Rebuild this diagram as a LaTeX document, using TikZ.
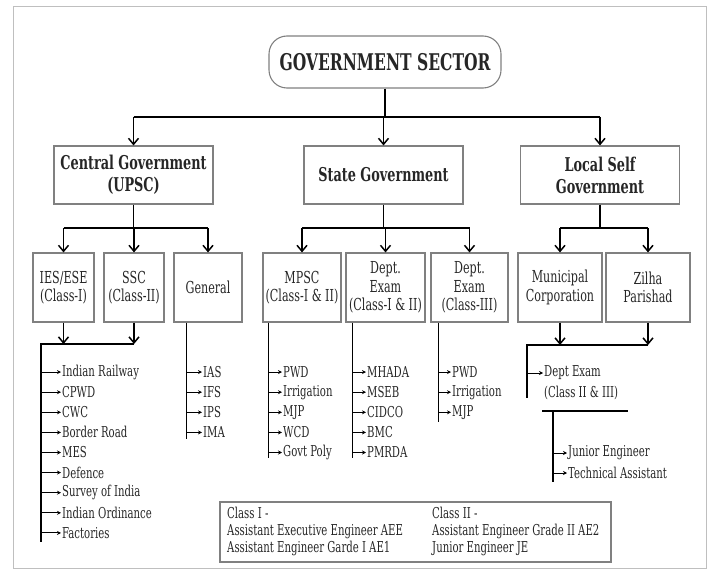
\documentclass[tikz,border=0pt]{standalone}
\usepackage{fontspec}
\setmainfont[FakeStretch=0.75]{DejaVu Serif Condensed}
\usetikzlibrary{arrows.meta, positioning}

\begin{document}
\begin{tikzpicture}[
    x=1pt, y=-1pt,
    every node/.style={font=\fontsize{15}{17}\selectfont, text=black!85},
    box/.style={rectangle, draw=gray, line width=1.1pt, align=center, inner sep=1pt},
    topbox/.style={box, font=\bfseries\fontsize{19}{22}\selectfont, minimum width=159pt, minimum height=58pt},
    subbox/.style={box, font=\fontsize{16.5}{18.5}\selectfont, minimum height=69pt},
    item/.style={anchor=west, inner sep=1pt},
    arrow/.style={line width=1.5pt, -{Straight Barb[length=6pt,width=10pt]}},
    stem/.style={line width=1.5pt},
    bus/.style={line width=2.2pt},
    tip/.style={line width=1pt, -{Stealth[length=4pt,width=4pt]}}
  ]
    \useasboundingbox (0,0) rectangle (717,572);
    \draw[gray!50, line width=1pt] (13,7) rectangle (706,568);
    % Nodes
    \node[box, rounded corners=18pt, minimum width=232pt, minimum height=52pt, font=\bfseries\fontsize{23}{26}\selectfont] (sector) at (385,62) {GOVERNMENT SECTOR};
    \node[topbox] (central) at (133.5,175) {Central Government\\(UPSC)};
    \node[topbox] (state) at (383.5,175) {State Government};
    \node[topbox] (local) at (600,175) {Local Self\\Government};
    \node[subbox, minimum width=61pt] (ies) at (63.5,287.5) {IES/ESE\\(Class-I)};
    \node[subbox, minimum width=60pt] (ssc) at (134,287.5) {SSC\\(Class-II)};
    \node[subbox, minimum width=68pt] (general) at (208,287.5) {General};
    \node[subbox, minimum width=78pt] (mpsc) at (302,287.5) {MPSC\\(Class-I \& II)};
    \node[subbox, minimum width=79pt] (deptA) at (385.5,287.5) {Dept.\\Exam\\(Class-I \& II)};
    \node[subbox, minimum width=77pt] (deptB) at (469.5,287.5) {Dept.\\Exam\\(Class-III)};
    \node[subbox, minimum width=84pt] (muni) at (560,287.5) {Municipal\\Corporation};
    \node[subbox, minimum width=84pt] (zilha) at (648,287.5) {Zilha\\Parishad};
    % Arrows (top level)
    \draw[stem] (sector) -- ++(0,55) coordinate (s1);
    \draw[bus] (s1 -| central) -- (s1 -| local);
    \foreach \n in {central, state, local} \draw[arrow] (s1 -| \n) -- (\n);
    % Arrows (second level)
    \draw[stem] (central) -- ++(0,53) coordinate (c1);
    \draw[bus] (c1 -| ies) -- (c1 -| general);
    \foreach \n in {ies, ssc, general} \draw[arrow] (c1 -| \n) -- (\n);
    \draw[stem] (state) -- ++(0,53) coordinate (c2);
    \draw[bus] (c2 -| mpsc) -- (c2 -| deptB);
    \foreach \n in {mpsc, deptA, deptB} \draw[arrow] (c2 -| \n) -- (\n);
    \draw[stem] (local) -- ++(0,53) coordinate (c3);
    \draw[bus] (c3 -| muni) -- (c3 -| zilha);
    \foreach \n in {muni, zilha} \draw[arrow] (c3 -| \n) -- (\n);
    % Central lists
    \coordinate (cg) at (41,344);
    \draw[arrow] (ies) -- (ies |- cg);
    \draw[arrow] (ssc) -- (ssc |- cg);
    \draw[bus] (ssc |- cg) -- (cg) -- ++(0,198);
    \foreach \t [count=\k] in {Indian Railway, CPWD, CWC, Border Road, MES, Defence, Survey of India, Indian Ordinance, Factories} {
      \node[item] (cg\k) at (61,352+20.1*\k) {\t};
      \draw[tip] (cg |- cg\k) -- (cg\k.west);
    }
    \coordinate (gn) at ([xshift=13pt]general.south west);
    \draw[stem] (gn) -- ++(0,116);
    \foreach \t [count=\k] in {IAS, IFS, IPS, IMA} {
      \node[item] (gn\k) at (202,352+20.1*\k) {\t};
      \draw[tip] (gn |- gn\k) -- (gn\k.west);
    }
    % State lists
    \coordinate (mp) at ([xshift=6pt]mpsc.south west);
    \draw[stem] (mp) -- ++(0,135);
    \foreach \t [count=\k] in {PWD, Irrigation, MJP, WCD, Govt Poly} {
      \node[item] (mp\k) at (282,352+20.1*\k) {\t};
      \draw[tip] (mp |- mp\k) -- (mp\k.west);
    }
    \coordinate (da) at ([xshift=7pt]deptA.south west);
    \draw[stem] (da) -- ++(0,135);
    \foreach \t [count=\k] in {MHADA, MSEB, CIDCO, BMC, PMRDA} {
      \node[item] (da\k) at (366,352+20.1*\k) {\t};
      \draw[tip] (da |- da\k) -- (da\k.west);
    }
    \coordinate (db) at ([xshift=8pt]deptB.south west);
    \draw[stem] (db) -- ++(0,99);
    \foreach \t [count=\k] in {PWD, Irrigation, MJP} {
      \node[item] (db\k) at (451,352+20.1*\k) {\t};
      \draw[tip] (db |- db\k) -- (db\k.west);
    }
    % Local list
    \coordinate (lc) at (527,345);
    \draw[arrow] (muni) -- (muni |- lc);
    \draw[arrow] (zilha) -- (zilha |- lc);
    \draw[bus] (zilha |- lc) -- (lc) -- ++(0,53);
    \node[item] (dexam) at (543,373) {Dept Exam};
    \node[item] (dclass) at (543,393) {(Class II \& III)};
    \draw[tip] (lc |- dexam) -- (dexam.west);
    \coordinate (bl) at (542,411);
    \coordinate (br) at (628,411);
    \coordinate (je) at (553,411);
    \draw[line width=2.5pt] (bl) -- (br);
    \draw[stem] (je) -- ++(0,71);
    \node[item] (je1) at (567,453) {Junior Engineer};
    \node[item] (je2) at (567,473) {Technical Assistant};
    \draw[tip] (je |- je1) -- (je1.west);
    \draw[tip] (je |- je2) -- (je2.west);
    % Class legend
    \node[box, minimum width=391pt, minimum height=60pt] (legend) at (415.5,532) {};
    \node[item, anchor=north west, align=left, font=\fontsize{15}{17}\selectfont] (classI) at (226,506) {Class I -\\Assistant Executive Engineer AEE\\Assistant Engineer Garde I AE1};
    \node[item, anchor=north west, align=left, font=\fontsize{15}{17}\selectfont] (classII) at (431,506) {Class II -\\Assistant Engineer Grade II AE2\\Junior Engineer JE};
  \end{tikzpicture}
\end{document}
